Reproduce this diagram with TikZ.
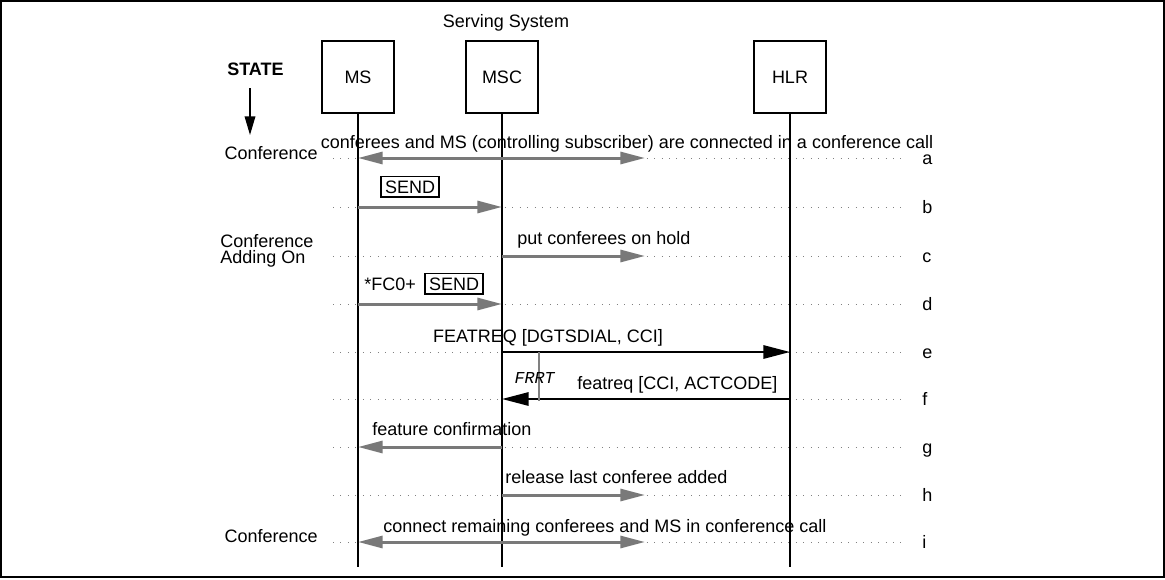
\documentclass[tikz,border=0pt]{standalone}
\usepackage{fontspec}
\setmainfont{Liberation Sans}
\newfontfamily\timerfont{Liberation Mono}
\usetikzlibrary{arrows.meta}

\tikzset{
  entity/.style={draw, line width=1.5pt, minimum width=54pt, minimum height=54pt, inner sep=0pt},
  lifeline/.style={line width=1.5pt},
  rowline/.style={gray, line width=0.75pt, dash pattern=on 0.75pt off 4.85pt},
  msg/.style={gray!95!black, line width=2.25pt, -{Triangle[length=18.5pt, width=9pt]}},
  dmsg/.style={msg, {Triangle[length=18.5pt, width=9pt]}-{Triangle[length=18.5pt, width=9pt]}},
  sig/.style={line width=1.5pt, -{Triangle[length=20pt, width=10pt]}},
  keybox/.style={draw, line width=1.1pt, inner xsep=3pt, inner ysep=3pt, outer sep=0pt},
  txt/.style={inner sep=0pt, font=\fontsize{13.5}{16}\selectfont},
}

\begin{document}
\begin{tikzpicture}[x=0.75pt, y=-0.75pt, >=stealth]
    \useasboundingbox (0,0) rectangle (1165,579);
    \draw[line width=2pt] (1,1) rectangle (1164,577);

    % entities
    \node[entity, txt] (ms)  at (358,77) {MS};
    \node[entity, txt] (msc) at (502,77) {MSC};
    \node[entity, txt] (hlr) at (790,77) {HLR};
    \node[txt, anchor=base] (serving) at (506,27) {Serving System};

    \coordinate (msend)  at (358,567);
    \coordinate (mscend) at (502,567);
    \coordinate (hlrend) at (790,567);

    % rows a..i
    \foreach \y/\l in {158/a, 207/b, 256/c, 304/d, 352/e, 399/f, 447/g, 495/h, 542/i} {
        \coordinate (L\l) at (358,\y);
        \coordinate (M\l) at (502,\y);
        \coordinate (H\l) at (790,\y);
        \coordinate (X\l) at (645,\y);
        \draw[rowline] (333,\y) -- (905,\y);
        \node[txt, anchor=base west] (lab\l) at (922,\y+6) {\l};
    }

    \draw[lifeline] (ms.south) -- (msend);
    \draw[lifeline] (msc.south) -- (mscend);
    \draw[lifeline] (hlr.south) -- (hlrend);

    % state column
    \node[txt, anchor=base west, font=\fontsize{13.5}{16}\selectfont\bfseries] (state) at (227,75) {STATE};
    \coordinate (statetip) at (250,135);
    \draw[line width=1pt, -{Triangle[length=14pt, width=8pt]}] (250,88) -- (statetip);
    \node[txt, anchor=base east] (st1) at (318,159) {Conference};
    \node[txt, anchor=base west] (st2) at (220,247) {Conference};
    \node[txt, anchor=base west] (st3) at (220,263) {Adding On};
    \node[txt, anchor=base east] (st4) at (318,542) {Conference};

    % messages
    \draw[dmsg] (La) -- (Xa);
    \node[txt, anchor=base] (ta) at (627,148) {conferees and MS (controlling subscriber) are connected in a conference call};

    \draw[msg] (Lb) -- (Mb);
    \node[txt, keybox, anchor=base west] (tb) at (381,193) {SEND};

    \draw[msg] (Mc) -- (Xc);
    \node[txt, anchor=base west] (tc) at (517,244) {put conferees on hold};

    \draw[msg] (Ld) -- (Md);
    \node[txt, anchor=base west] (td) at (364,290) {*FC0+};
    \node[txt, keybox, anchor=base west] (tdk) at (425,290) {SEND};

    \draw[sig] (Me) -- (He);
    \node[txt, anchor=base] (te) at (548,342) {FEATREQ [DGTSDIAL, CCI]};

    \draw[sig] (Hf) -- (Mf);
    \node[txt, anchor=base west] (tf) at (577,389) {featreq [CCI, ACTCODE]};

    % timer
    \coordinate (frrttop) at (539,352);
    \coordinate (frrtbot) at (539,401);
    \draw[gray, line width=1.5pt] (frrttop) -- (frrtbot);
    \node[anchor=base, inner sep=0pt, font=\fontsize{12.5}{14}\timerfont\itshape] (frrt) at (534.5,383) {FRRT};

    \draw[msg] (Mg) -- (Lg);
    \node[txt, anchor=base west] (tg) at (372,435) {feature confirmation};

    \draw[msg] (Mh) -- (Xh);
    \node[txt, anchor=base west] (th) at (505,483) {release last conferee added};

    \draw[dmsg] (Li) -- (Xi);
    \node[txt, anchor=base west] (ti) at (383,532) {connect remaining conferees and MS in conference call};
\end{tikzpicture}
\end{document}
